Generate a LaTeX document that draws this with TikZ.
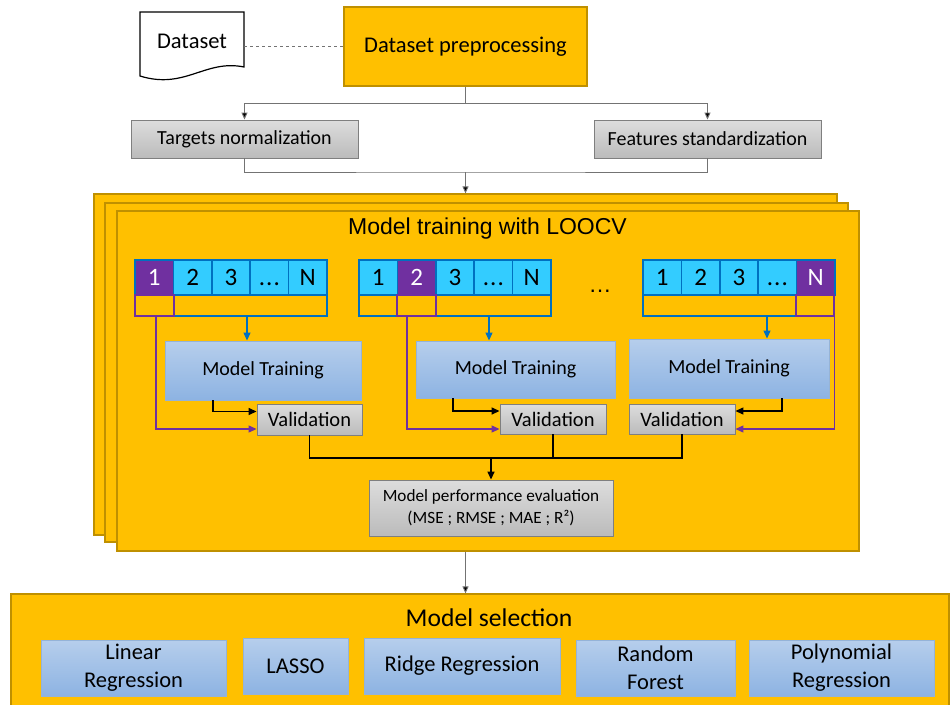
\documentclass[tikz,border=0pt]{standalone}
\usepackage{fontspec}
\setmainfont{Carlito}
\newfontfamily\arialf{Liberation Sans}
\usetikzlibrary{arrows.meta}
\definecolor{gold}{HTML}{FFC000}
\definecolor{golddark}{HTML}{BF9000}
\definecolor{cyanc}{HTML}{33CCFF}
\definecolor{bluec}{HTML}{0070C0}
\definecolor{purp}{HTML}{7030A0}
\definecolor{grayb}{HTML}{7F7F7F}
\definecolor{btop}{HTML}{B6CEEC}
\definecolor{bbot}{HTML}{8DB3E2}
\definecolor{bborder}{HTML}{95B3D7}
\definecolor{gtop}{HTML}{DDDDDD}
\definecolor{gbot}{HTML}{BBBBBB}
\newcommand{\fsz}[1]{\fontsize{#1}{#1}\selectfont}
\newcommand{\mydots}{.\kern1pt.\kern1pt.}
\begin{document}
\begin{tikzpicture}[x=1pt,y=-1pt,
  panel/.style={fill=gold, draw=golddark, line width=1.2pt, inner sep=0pt},
  graybox/.style={draw=grayb, top color=gtop, bottom color=gbot, inner sep=0pt, line width=0.9pt},
  bluebox/.style={draw=bborder, top color=btop, bottom color=bbot, inner sep=0pt, line width=0.9pt},
  cell/.style={draw=bluec, fill=cyanc, line width=1.6pt, minimum width=38.4pt, minimum height=35pt, inner sep=0pt, font=\fsz{25}},
  pcell/.style={cell, fill=purp, text=white},
  slot/.style={draw=bluec, line width=1.1pt, minimum height=21pt, inner sep=0pt},
  pslot/.style={slot, draw=purp},
  garr/.style={draw=black!55, line width=0.9pt, -{Triangle[length=7pt,width=6pt,fill=black]}},
  gline/.style={draw=black!55, line width=0.9pt},
  karr/.style={draw=black, line width=1.4pt, -{Triangle[length=8pt,width=7pt]}},
  parr/.style={draw=purp, line width=1.2pt, -{Triangle[length=8pt,width=7pt]}},
  barr/.style={draw=bluec, line width=1.2pt, -{Triangle[length=8pt,width=7pt]}},
  kline/.style={draw=black, line width=1.4pt},
  txt/.style={inner sep=0pt}
]
\useasboundingbox (0,0) rectangle (952,704);
\fill[white] (0,0) rectangle (952,704);

% Dataset document
\draw[line width=1.2pt, fill=white] (140,12) -- (244,12) -- (244,67) .. controls (205,59) and (185,90) .. (140,76) -- cycle;
\node[txt, minimum width=104pt, minimum height=10pt, font=\fsz{22.5}] (ds) at (192,41) {Dataset};

% Preprocessing
\node[panel, minimum width=243pt, minimum height=79pt, font=\fsz{22.5}] (pre) at (465.5,46.5) {Dataset preprocessing};
\draw[gline, dashed] (ds.east |- pre.west) -- (pre.west);

\node[graybox, minimum width=227pt, minimum height=38pt, font=\fsz{20}] (tn) at (244.5,139) {Targets normalization};
\node[graybox, minimum width=227pt, minimum height=38pt, font=\fsz{20}] (fs) at (707.5,139) {Features standardization};
\draw[garr] (pre.south) -- ++(0,16.5) -| (tn.north);
\draw[garr] (pre.south) -- ++(0,16.5) -| (fs.north);

% Stacked panels
\node[panel, minimum width=743pt, minimum height=341pt] (p1) at (465.5,364.5) {};
\node[panel, minimum width=743pt, minimum height=339pt] (p2) at (476.5,372.5) {};
\node[panel, minimum width=742pt, minimum height=340pt] (p3) at (488,381) {};
\coordinate (k) at (465.5,172);
\draw[gline] (tn.south) |- (k) -| (fs.south);
\draw[garr] (k) -- (p1.north);

\node[txt, font=\arialf\fsz{23}] (ttl) at (487.5,229) {Model training with LOOCV};

% Fold bars
\foreach \t [count=\i] in {1,2,3,\mydots,N} {
  \pgfmathsetmacro{\xa}{135+38.4*(\i-0.5)}
  \pgfmathsetmacro{\xb}{359+38.4*(\i-0.5)}
  \pgfmathsetmacro{\xc}{643+38.4*(\i-0.5)}
  \ifnum\i=1 \node[pcell] (a\i) at (\xa,277.5) {\vphantom{1}\t}; \else \node[cell] (a\i) at (\xa,277.5) {\vphantom{1}\t}; \fi
  \ifnum\i=2 \node[pcell] (b\i) at (\xb,277.5) {\vphantom{1}\t}; \else \node[cell] (b\i) at (\xb,277.5) {\vphantom{1}\t}; \fi
  \ifnum\i=5 \node[pcell] (c\i) at (\xc,277.5) {\vphantom{1}\t}; \else \node[cell] (c\i) at (\xc,277.5) {\vphantom{1}\t}; \fi
}
\node[txt, anchor=base, font=\arialf\fsz{23}] (dots) at (600,292) {…};

% slots row
\node[slot, minimum width=153pt] (r1b) at (250.5,305.5) {};
\node[pslot, minimum width=39pt] (r1a) at (154.5,305.5) {};
\node[slot, minimum width=38pt] (r2a) at (378,305.5) {};
\node[slot, minimum width=115pt] (r2c) at (493.5,305.5) {};
\node[pslot, minimum width=39pt] (r2b) at (416.5,305.5) {};
\node[slot, minimum width=153pt] (r3a) at (719.5,305.5) {};
\node[pslot, minimum width=38pt] (r3b) at (815,305.5) {};

% Model training boxes
\node[bluebox, minimum width=196pt, minimum height=59pt, font=\fsz{20}] (mt1) at (263,370.5) {Model Training};
\node[bluebox, minimum width=199pt, minimum height=57pt, font=\fsz{20}] (mt2) at (515.5,369.5) {Model Training};
\node[bluebox, minimum width=200pt, minimum height=59pt, font=\fsz{20}] (mt3) at (729,368.5) {Model Training};

\node[graybox, minimum width=105pt, minimum height=31pt, font=\fsz{20.5}] (v1) at (309.5,419.5) {Validation};
\node[graybox, minimum width=106pt, minimum height=30pt, font=\fsz{20.5}] (v2) at (553,419) {Validation};
\node[graybox, minimum width=106pt, minimum height=30pt, font=\fsz{20.5}] (v3) at (682,419) {Validation};

\draw[barr] ([xshift=-3.5pt]r1b.south) -- ([xshift=-3.5pt]r1b.south |- mt1.north);
\draw[barr] ([xshift=-4.5pt]r2c.south) -- ([xshift=-4.5pt]r2c.south |- mt2.north);
\draw[barr] ([xshift=47.5pt]r3a.south) -- ([xshift=47.5pt]r3a.south |- mt3.north);

\draw[karr] ([xshift=-50pt]mt1.south) |- ([yshift=8pt]v1.west);
\draw[karr] ([xshift=-62.5pt]mt2.south) |- ([yshift=8pt]v2.west);
\draw[karr] ([xshift=53pt]mt3.south) |- ([yshift=8pt]v3.east);

\draw[parr] ([xshift=1.5pt]r1a.south) |- ([yshift=-9.5pt]v1.west);
\draw[parr] ([xshift=-9.5pt]r2b.south) |- ([yshift=-10pt]v2.west);
\draw[parr] (r3b.south east) |- ([yshift=-10pt]v3.east);

% Evaluation
\node[graybox, minimum width=244pt, minimum height=56pt, align=center, font=\fontsize{17.2}{22}\selectfont] (ev) at (491,508) {Model performance evaluation\\(MSE ; RMSE ; MAE ; R²)};
\coordinate (j) at (491,458);
\draw[kline] (v1.south) -- (v1.south |- j) -- (v3.south |- j) -- (v3.south);
\draw[kline] (v2.south) -- (v2.south |- j);
\draw[karr] (j) -- (ev.north);

% Model selection
\node[panel, minimum width=938pt, minimum height=114pt] (ms) at (480,651) {};
\draw[garr] (p1.north |- p3.south) -- (p1.north |- ms.north);
\node[txt, font=\fsz{25.6}] (mst) at (489,618) {Model selection};
\node[bluebox, minimum width=185pt, minimum height=56pt, align=center, font=\fontsize{22.5}{28}\selectfont] (lr) at (133.5,668) {Linear\\Regression};
\node[bluebox, minimum width=105pt, minimum height=56pt, font=\fsz{22.5}] (la) at (295.5,666) {LASSO};
\node[bluebox, minimum width=196pt, minimum height=56pt, font=\fsz{22.5}] (rr) at (462,666) {Ridge Regression};
\node[bluebox, minimum width=159pt, minimum height=56pt, align=center, font=\fontsize{22.5}{28}\selectfont] (rf) at (655.5,668) {Random\\Forest};
\node[bluebox, minimum width=185pt, minimum height=56pt, align=center, font=\fontsize{22.5}{28}\selectfont] (pr) at (841.5,668) {Polynomial\\Regression};
\end{tikzpicture}
\end{document}
